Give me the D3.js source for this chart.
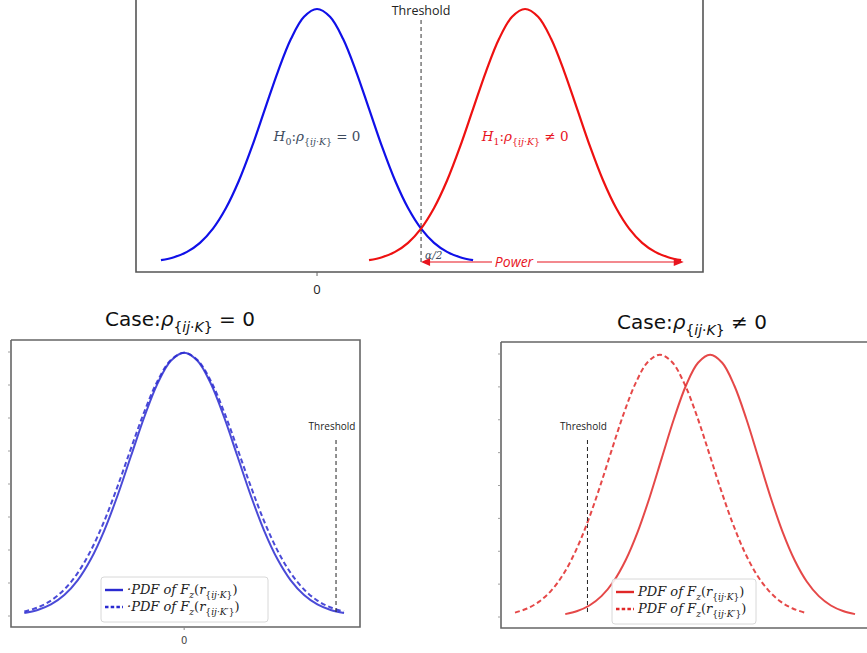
<!DOCTYPE html>
<html><head><meta charset="utf-8">
<script src="https://cdn.jsdelivr.net/npm/d3@7"></script>
<style>body{margin:0;background:#fff;overflow:hidden}</style>
</head><body><svg id="c" width="867" height="653"></svg>
<script>
// ---------- data ----------
// sample positions in standard-deviation steps around each curve's centre
const sdSteps = [-3,-2.75,-2.5,-2.25,-2,-1.75,-1.5,-1.25,-1,-0.75,-0.5,-0.25,0,0.25,0.5,0.75,1,1.25,1.5,1.75,2,2.25,2.5,2.75,3];
// density heights of the solid curves
const densNarrow = [0.0044,0.0091,0.0175,0.0317,0.0540,0.0863,0.1295,0.1826,0.2420,0.3011,0.3521,0.3867,0.3989,0.3867,0.3521,0.3011,0.2420,0.1826,0.1295,0.0863,0.0540,0.0317,0.0175,0.0091,0.0044];
// density heights of the dashed (slightly wider) curves
const densWide = [0.0067,0.0129,0.0234,0.0402,0.0650,0.0995,0.1438,0.1964,0.2535,0.3091,0.3561,0.3878,0.3989,0.3878,0.3561,0.3091,0.2535,0.1964,0.1438,0.0995,0.0650,0.0402,0.0234,0.0129,0.0067];
const topCentres = [0, 4];          // H0, H1
const topThreshold = 2;
const topTickValues = [0];
const topTickLabels = ["0"];
const blCentres = [0, 0];           // solid, dashed
const blThreshold = 2.85;
const blTickValues = [0];
const blTickLabels = ["0"];
const brCentres = [1.04, 0];        // solid, dashed
const brThreshold = -1.5;
const yTickValues = [0,0.05,0.1,0.15,0.2,0.25,0.3,0.35,0.4];

const svg = d3.select("#c");
const MATH = "'DejaVu Serif', 'Liberation Serif', serif";
const SANS = "'Open Sans', 'DejaVu Sans', sans-serif";

// rich text helper: parts = [{t, it, sub}]
function rich(g, x, y, parts, opt) {
  const t = g.append("text").attr("x", x).attr("y", y)
    .attr("font-family", opt.font).attr("font-size", opt.size)
    .attr("fill", opt.fill).attr("text-anchor", opt.anchor || "start");
  let cur = 0;
  parts.forEach(p => {
    const lvl = p.sub || 0;
    const ts = t.append("tspan").text(p.t)
      .attr("font-style", p.it ? "italic" : "normal")
      .attr("font-size", opt.size * Math.pow(0.7, lvl));
    const dy = (lvl - cur) * opt.size * 0.28;
    if (dy !== 0) ts.attr("dy", dy);
    cur = lvl;
  });
  return t;
}

function frame(g, x0, y0, x1, y1) {
  g.append("path").attr("d", `M${x0},${y0}V${y1}H${x1}V${y0}H${x0}`)
    .attr("fill", "none").attr("stroke", "#666").attr("stroke-width", 1.6);
}

// ---------- top panel ----------
{
  const g = svg.append("g");
  const x = d3.scaleLinear().domain([-3.48, 7.42]).range([136, 703]);
  const y = d3.scaleLinear().domain([0, 0.3989]).range([263, 9]);
  g.append("path").attr("d", "M136,-5V272H703V-5").attr("fill", "none").attr("stroke", "#555").attr("stroke-width", 1.6);
  const colors = ["#1010e8", "#ee1111"];
  topCentres.forEach((c, i) => {
    const line = d3.line().x((d, k) => x(sdSteps[k] + c)).y(d => y(d)).curve(d3.curveCatmullRom);
    g.append("path").attr("d", line(densNarrow)).attr("fill", "none").attr("stroke", colors[i]).attr("stroke-width", 2.2);
  });
  // bottom axis ticks
  topTickValues.forEach((v, i) => {
    g.append("line").attr("x1", x(v)).attr("x2", x(v)).attr("y1", 272).attr("y2", 276).attr("stroke", "#666");
    g.append("text").attr("x", x(v)).attr("y", 294).attr("text-anchor", "middle")
      .attr("font-family", SANS).attr("font-size", 13).attr("fill", "#222").text(topTickLabels[i]);
  });
  // threshold
  g.append("line").attr("x1", x(topThreshold)).attr("x2", x(topThreshold)).attr("y1", 20).attr("y2", 262)
    .attr("stroke", "#333").attr("stroke-width", 1).attr("stroke-dasharray", "4,3");
  g.append("text").attr("x", x(topThreshold)).attr("y", 15).attr("text-anchor", "middle")
    .attr("font-family", SANS).attr("font-size", 12.5).attr("fill", "#222").text("Threshold");
  // labels
  rich(g, x(0), 141, [{t:"H",it:1},{t:"0",sub:1},{t:":",sub:0},{t:"ρ",it:1},{t:"{",sub:1},{t:"ij",it:1,sub:1},{t:"·",sub:1},{t:"K",it:1,sub:1},{t:"}",sub:1},{t:" = 0",sub:0}],
    {font: MATH, size: 13.5, fill: "#3d4b5e", anchor: "middle"});
  rich(g, x(4), 141, [{t:"H",it:1},{t:"1",sub:1},{t:":",sub:0},{t:"ρ",it:1},{t:"{",sub:1},{t:"ij",it:1,sub:1},{t:"·",sub:1},{t:"K",it:1,sub:1},{t:"}",sub:1},{t:" ≠ 0",sub:0}],
    {font: MATH, size: 13.5, fill: "#e8141e", anchor: "middle"});
  // power arrow
  const ay = 262, ax0 = x(topThreshold), ax1 = x(topCentres[1] + 3.05);
  g.append("line").attr("x1", ax0 + 6).attr("x2", 492).attr("y1", ay).attr("y2", ay).attr("stroke", "#e8141e").attr("stroke-width", 1.2);
  g.append("line").attr("x1", 537).attr("x2", ax1 - 8).attr("y1", ay).attr("y2", ay).attr("stroke", "#e8141e").attr("stroke-width", 1.2);
  g.append("path").attr("d", `M${ax0},${ay}l9,-4v8z`).attr("fill", "#e8141e");
  g.append("path").attr("d", `M${ax1},${ay}l-10,-4v8z`).attr("fill", "#e8141e");
  g.append("text").attr("x", 514).attr("y", ay + 5).attr("text-anchor", "middle")
    .attr("font-family", SANS).attr("font-style", "italic").attr("font-size", 14).attr("fill", "#e8141e").text("Power");
  g.append("text").attr("x", ax0 + 4).attr("y", ay - 3)
    .attr("font-family", MATH).attr("font-style", "italic").attr("font-size", 10.5).attr("fill", "#3d4b5e").text("α/2");
}

// ---------- bottom panels ----------
function bottomPanel(opts) {
  const g = svg.append("g");
  const x = d3.scaleLinear().domain(opts.xd).range([opts.x0, opts.x1]);
  const y = d3.scaleLinear().domain([0, 0.4]).range([opts.yb, opts.yt]);
  frame(g, opts.x0, opts.fy0, opts.x1, opts.fy1);
  yTickValues.forEach(v => {
    g.append("line").attr("x1", opts.x0 - 3).attr("x2", opts.x0).attr("y1", y(v)).attr("y2", y(v)).attr("stroke", "#888").attr("stroke-width", 0.8);
  });
  opts.ticks.forEach((v, i) => {
    g.append("line").attr("x1", x(v)).attr("x2", x(v)).attr("y1", opts.fy1).attr("y2", opts.fy1 + 3).attr("stroke", "#888");
    g.append("text").attr("x", x(v)).attr("y", opts.fy1 + 17).attr("text-anchor", "middle")
      .attr("font-family", "'DejaVu Sans', sans-serif").attr("font-size", 10).attr("fill", "#444").text(opts.tickLabels[i]);
  });
  // curves
  const series = [{c: opts.centres[0], d: densNarrow, dash: null}, {c: opts.centres[1], d: densWide, dash: "5,3"}];
  series.forEach(s => {
    const line = d3.line().x((d, k) => x(sdSteps[k] + s.c)).y(d => y(d)).curve(d3.curveCatmullRom);
    g.append("path").attr("d", line(s.d)).attr("fill", "none").attr("stroke", opts.color)
      .attr("stroke-width", 2).attr("stroke-dasharray", s.dash).attr("opacity", 0.85);
  });
  // threshold
  g.append("line").attr("x1", x(opts.thr)).attr("x2", x(opts.thr)).attr("y1", opts.thrTop).attr("y2", opts.yb - 3)
    .attr("stroke", "#222").attr("stroke-width", 1).attr("stroke-dasharray", "4,3");
  g.append("text").attr("x", x(opts.thr) - 4).attr("y", opts.thrTop - 10).attr("text-anchor", "middle")
    .attr("font-family", SANS).attr("font-size", 10).attr("fill", "#222").text("Threshold");
  // title
  rich(g, opts.titleX, opts.titleY, [{t:"Case:"},{t:"ρ",it:1},{t:"{",sub:1},{t:"ij",it:1,sub:1},{t:"·",sub:1},{t:"K",it:1,sub:1},{t:"}",sub:1},{t:" " + opts.rel + " 0",sub:0}],
    {font: "'DejaVu Sans', sans-serif", size: 20, fill: "#111", anchor: "start"});
  // legend
  const L = opts.legend;
  g.append("rect").attr("x", L.x).attr("y", L.y).attr("width", L.w).attr("height", 45).attr("rx", 3)
    .attr("fill", "#fff").attr("fill-opacity", 0.85).attr("stroke", "#d8d8d8");
  [[null, "K"], ["3.5,2.2", "K′"]].forEach((r, i) => {
    const ly = L.y + 13 + i * 17;
    g.append("line").attr("x1", L.x + 4).attr("x2", L.x + 22).attr("y1", ly).attr("y2", ly)
      .attr("stroke", opts.color).attr("stroke-width", 2.4).attr("stroke-dasharray", r[0]);
    rich(g, L.x + 26, ly + 4, [{t:L.prefix + "PDF of ",it:1},{t:"F",it:1},{t:"z",it:1,sub:1},{t:"(",sub:0},{t:"r",it:1},{t:"{",sub:1},{t:"ij",it:1,sub:1},{t:"·",sub:1},{t:r[1],it:1,sub:1},{t:"}",sub:1},{t:")",sub:0}],
      {font: MATH, size: 13, fill: "#222", anchor: "start"});
  });
}

bottomPanel({xd: [-3.25, 3.3], x0: 11, x1: 360, yb: 616, yt: 352, fy0: 340, fy1: 627,
  centres: blCentres, color: "#2a2ad0", thr: blThreshold, thrTop: 440, ticks: blTickValues, tickLabels: blTickLabels,
  titleX: 105, titleY: 326, rel: "=", legend: {x: 101, y: 577, w: 167, prefix: "·"}});
bottomPanel({xd: [-3.29, 4.35], x0: 501, x1: 870, yb: 617, yt: 354, fy0: 342, fy1: 628,
  centres: brCentres, color: "#e02828", thr: brThreshold, thrTop: 440, ticks: [], tickLabels: [],
  titleX: 617, titleY: 329, rel: "≠", legend: {x: 612, y: 579, w: 144, prefix: ""}});
</script></body></html>
